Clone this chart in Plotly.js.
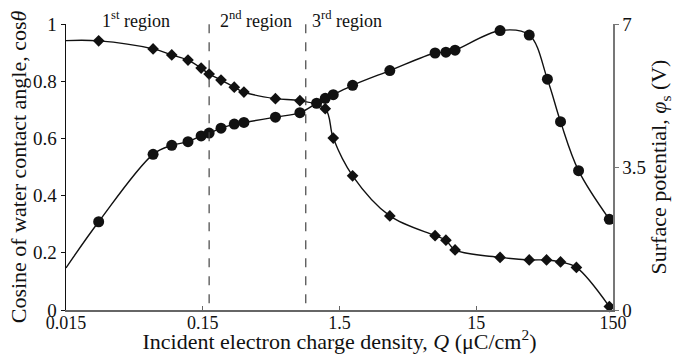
<!DOCTYPE html>
<html>
<head>
<meta charset="utf-8">
<script src="https://cdn.plot.ly/plotly-3.0.1.min.js"></script>
<style>html,body{margin:0;padding:0;background:#fff;}#chart{width:688px;height:354px;}</style>
</head>
<body>
<div id="chart"></div>
<script>
// Cosine of water contact angle (diamonds, left axis)
const cosQ = [0.026, 0.065, 0.089, 0.117, 0.146, 0.167, 0.204, 0.255, 0.30, 0.51, 0.77, 1.18, 1.35, 1.87, 3.5, 7.5, 9.0, 10.5, 22.4, 36.6, 49, 62, 81, 141];
const cosVal = [0.941, 0.913, 0.892, 0.874, 0.846, 0.825, 0.804, 0.779, 0.762, 0.739, 0.732, 0.704, 0.601, 0.469, 0.329, 0.260, 0.244, 0.210, 0.184, 0.175, 0.175, 0.168, 0.149, 0.012];
// Surface potential (circles, right axis)
const potQ = [0.026, 0.065, 0.089, 0.117, 0.146, 0.167, 0.204, 0.255, 0.30, 0.51, 0.77, 1.02, 1.18, 1.35, 1.87, 3.5, 7.5, 9.0, 10.5, 22.4, 36.6, 49.7, 62, 84, 141];
const potVal = [2.16, 3.81, 4.03, 4.12, 4.26, 4.33, 4.45, 4.55, 4.59, 4.72, 4.83, 5.06, 5.18, 5.27, 5.50, 5.86, 6.29, 6.31, 6.36, 6.84, 6.73, 5.65, 4.61, 3.41, 2.22];
// Start of the fitted curves at the left edge of the axis
const cosCurveStart = [0.015, 0.942];
const potCurveStart = [0.015, 1.03];
// Axis ticks
const xTicks = [0.015, 0.15, 1.5, 15, 150];
const xTickText = ['0.015', '0.15', '1.5', '15', '150'];
const yTicks = [0, 0.2, 0.4, 0.6, 0.8, 1];
const y2Ticks = [0, 3.5, 7];
// Region boundaries and labels
const regionBounds = [0.167, 0.85];
const regionLabels = ['1<sup>st</sup> region', '2<sup>nd</sup> region', '3<sup>rd</sup> region'];

const FONT = '"Liberation Serif", "Times New Roman", serif';
const INK = '#111';

const traces = [
  {x: [cosCurveStart[0]].concat(cosQ), y: [cosCurveStart[1]].concat(cosVal), mode: 'lines',
   line: {color: INK, width: 1.4, shape: 'spline', smoothing: 1}, hoverinfo: 'skip', showlegend: false},
  {x: [potCurveStart[0]].concat(potQ), y: [potCurveStart[1]].concat(potVal), yaxis: 'y2', mode: 'lines',
   line: {color: INK, width: 1.4, shape: 'spline', smoothing: 1}, hoverinfo: 'skip', showlegend: false},
  {x: cosQ, y: cosVal, mode: 'markers', name: 'cos θ',
   marker: {symbol: 'diamond', size: 9, color: INK}, showlegend: false, cliponaxis: false},
  {x: potQ, y: potVal, yaxis: 'y2', mode: 'markers', name: 'φs',
   marker: {symbol: 'circle', size: 11, color: INK}, showlegend: false, cliponaxis: false}
];

const regionCenters = [0.128, 0.347, 0.514];

const layout = {
  width: 688, height: 354,
  margin: {l: 66, r: 75, t: 24, b: 44},
  paper_bgcolor: '#fff', plot_bgcolor: '#fff',
  font: {family: FONT, color: INK, size: 19},
  showlegend: false,
  xaxis: {
    type: 'log',
    range: [Math.log10(xTicks[0]), Math.log10(xTicks[xTicks.length - 1])],
    tickvals: xTicks, ticktext: xTickText,
    ticks: 'inside', ticklen: 4, tickcolor: '#666', tickwidth: 1,
    ticklabelstandoff: -4,
    showline: true, linecolor: '#666', linewidth: 1.5,
    showgrid: false, zeroline: false,
    tickfont: {family: FONT, size: 18, color: INK},
    title: {text: 'Incident electron charge density, <i>Q</i> (μC/cm<sup>2</sup>)', font: {family: FONT, size: 22, color: INK}, standoff: 3}
  },
  yaxis: {
    range: [0, 1], tickvals: yTicks,
    ticks: 'outside', ticklen: 4, tickcolor: INK,
    showline: true, linecolor: INK, linewidth: 1.5,
    showgrid: false, zeroline: false,
    tickfont: {family: FONT, size: 19, color: INK},
    title: {text: 'Cosine of water contact angle, cos<i>θ</i>', font: {family: FONT, size: 22, color: INK}, standoff: 0}
  },
  yaxis2: {
    overlaying: 'y', side: 'right', range: [0, 7], tickvals: y2Ticks,
    ticks: 'outside', ticklen: 4, tickcolor: '#777',
    showline: true, linecolor: '#777', linewidth: 1.5,
    showgrid: false, zeroline: false,
    tickfont: {family: FONT, size: 19, color: INK},
    title: {text: 'Surface potential, <i>φ</i><sub>s</sub> (V)', font: {family: FONT, size: 22, color: INK}, standoff: 4}
  },
  shapes: regionBounds.map(b => ({
    type: 'line', xref: 'x', yref: 'paper', x0: b, x1: b, y0: 0.024, y1: 1.024,
    line: {color: '#444', width: 1.2, dash: 'dash'}
  })),
  annotations: regionLabels.map((t, i) => ({
    text: t, xref: 'paper', yref: 'paper', x: regionCenters[i], y: 1.017,
    xanchor: 'center', yanchor: 'middle', showarrow: false,
    font: {family: FONT, size: 18, color: INK}
  }))
};

Plotly.newPlot('chart', traces, layout, {displayModeBar: false, staticPlot: true});
</script>
</body>
</html>
